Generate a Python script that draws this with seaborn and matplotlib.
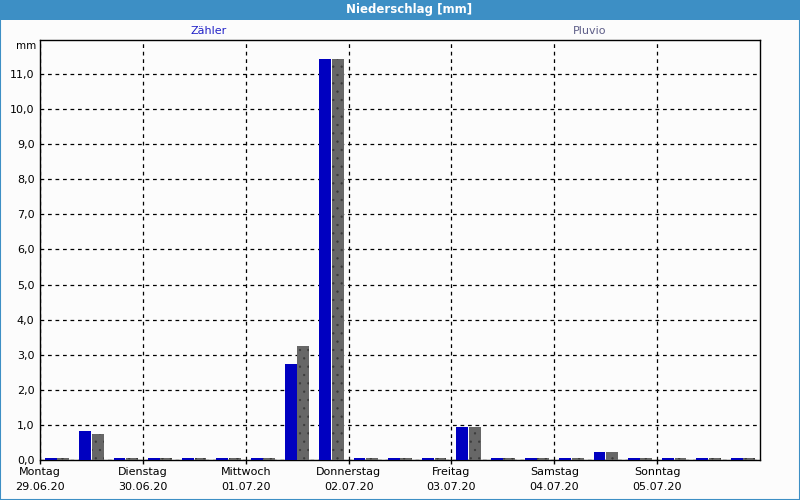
import matplotlib
matplotlib.use("Agg")
import matplotlib.pyplot as plt
from matplotlib.patches import Rectangle
import seaborn as sns
import pandas as pd
import numpy as np

# ---- data ----
days = ["Montag", "Dienstag", "Mittwoch", "Donnerstag", "Freitag", "Samstag", "Sonntag"]
dates = ["29.06.20", "30.06.20", "01.07.20", "02.07.20", "03.07.20", "04.07.20", "05.07.20"]
slots_per_day = 3
series_names = ["Zähler", "Pluvio"]
zaehler = [0.06, 0.83, 0.06, 0.06, 0.06, 0.06, 0.06, 2.75, 11.43, 0.06, 0.06, 0.06,
           0.95, 0.06, 0.06, 0.06, 0.23, 0.06, 0.06, 0.06, 0.06]
pluvio = [0.06, 0.74, 0.06, 0.06, 0.06, 0.06, 0.06, 3.25, 11.43, 0.06, 0.06, 0.06,
          0.95, 0.06, 0.06, 0.06, 0.23, 0.06, 0.06, 0.06, 0.06]
y_ticks = list(range(0, 12))

n = len(zaehler)
slots = [f"s{i:02d}" for i in range(n)]
df = pd.DataFrame({
    "slot": slots * 2,
    "value": zaehler + pluvio,
    "series": [series_names[0]] * n + [series_names[1]] * n,
})

blue = "#0000C0"
gray = "#676767"

sns.set_theme(style="white")
plt.rcParams["font.family"] = ["DejaVu Sans"]
plt.rcParams["hatch.linewidth"] = 0.4
plt.rcParams["text.color"] = "black"
plt.rcParams["xtick.color"] = "black"
plt.rcParams["ytick.color"] = "black"

fig = plt.figure(figsize=(8, 5), dpi=100, facecolor="#FCFCFC")
ax = fig.add_axes([0.05, 0.08, 0.90, 0.84])
ax.set_facecolor("#FCFCFC")

sns.barplot(data=df, x="slot", y="value", hue="series", order=slots,
            hue_order=series_names, palette=[blue, gray], width=0.72, gap=0.04,
            saturation=1, legend=False, ax=ax, linewidth=0)

# stipple texture on the gray series
for cont, name in zip(ax.containers, series_names):
    for p in cont:
        p.set_zorder(3)
        if name == "Pluvio":
            p.set_edgecolor("#3a3a3a")
            p.set_linewidth(0)
            p.set_hatch("..")

ax.set_xlim(-0.5, n - 0.5)
ax.set_ylim(0, 11.97)
ax.set_xlabel("")
ax.set_ylabel("")

boundaries = [i * slots_per_day - 0.5 for i in range(len(days))]
ax.set_xticks(boundaries)
ax.set_xticklabels([f"{d}\n{dt}" for d, dt in zip(days, dates)], fontsize=8,
                   linespacing=1.6)
ax.set_yticks(y_ticks)
ax.set_yticklabels([f"{v:.1f}".replace(".", ",") for v in y_ticks], fontsize=8)
ax.tick_params(axis="x", length=3, width=1, color="black", pad=2, direction="out",
               bottom=True, labelcolor="black")
ax.tick_params(axis="y", length=0, pad=4, labelcolor="black")

ax.grid(True, axis="both", color="black", linestyle=(0, (3, 3)), linewidth=0.9)
ax.set_axisbelow(True)
for s in ax.spines.values():
    s.set_color("black")
    s.set_linewidth(1.0)
    s.set_visible(True)

# title bar
fig.patches.append(Rectangle((0, 0.96), 1, 0.04, transform=fig.transFigure,
                             facecolor="#3D8FC5", edgecolor="none", zorder=0))
fig.patches.append(Rectangle((0.0006, 0.001), 0.9988, 0.998, transform=fig.transFigure,
                             facecolor="none", edgecolor="#3D8FC5", linewidth=1.5, zorder=5))
fig.text(0.511, 0.980, "Niederschlag [mm]", color="white", fontsize=8.5,
         fontweight="bold", ha="center", va="center")

# legend labels
fig.text(0.261, 0.937, series_names[0], color="#2323C8", fontsize=8, ha="center", va="center")
fig.text(0.737, 0.937, series_names[1], color="#5E5E88", fontsize=8, ha="center", va="center")

fig.text(0.045, 0.908, "mm", color="black", fontsize=7.5, ha="right", va="center")

fig.savefig("out.png", dpi=100, facecolor=fig.get_facecolor())
